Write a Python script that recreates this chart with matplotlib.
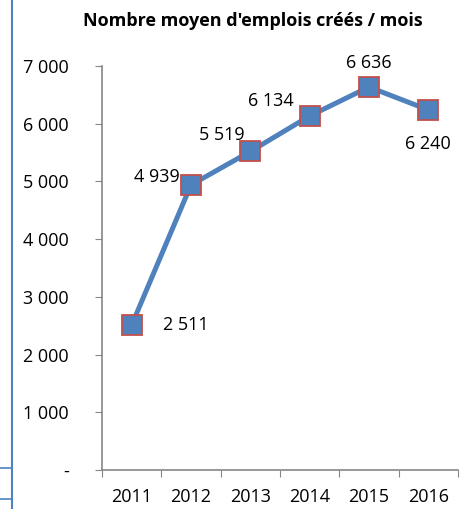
import matplotlib.pyplot as plt
from matplotlib.lines import Line2D

plt.rcParams['font.family'] = ['Open Sans', 'DejaVu Sans']

years = ['2011', '2012', '2013', '2014', '2015', '2016']
emplois = [2511, 4939, 5519, 6134, 6636, 6240]
labels = ['2 511', '4 939', '5 519', '6 134', '6 636', '6 240']
yticks = [0, 1000, 2000, 3000, 4000, 5000, 6000, 7000]
ytick_labels = ['-', '1 000', '2 000', '3 000', '4 000', '5 000', '6 000', '7 000']

fig = plt.figure(figsize=(4.63, 5.09), dpi=100)
ax = fig.add_axes([0.2203, 0.0766, 0.7687, 0.7937])

xs = [i + 0.5 for i in range(len(years))]
ax.plot(xs, emplois, color='#4F81BD', linewidth=3.6, marker='s', markersize=14.5,
        markerfacecolor='#4F81BD', markeredgecolor='#C0504D', markeredgewidth=1.3)

# position des étiquettes de données (décalage en pixels)
offsets = [(31, 0, 'left'), (-11, 8, 'right'), (-6, 16, 'right'),
           (-16, 15, 'right'), (0, 24, 'center'), (0, -34, 'center')]
for x, y, lab, (dx, dy, ha) in zip(xs, emplois, labels, offsets):
    ax.annotate(lab, (x, y), xytext=(dx, dy), textcoords='offset pixels',
                ha=ha, va='center', fontsize=13, color='black')

ax.set_xlim(0, 6)
ax.set_ylim(0, 7000)
ax.set_xticks(range(7))
ax.set_xticklabels([])
ax.set_xticks(xs, minor=True)
ax.set_xticklabels(years, minor=True)
ax.tick_params(axis='x', which='minor', length=0, pad=13, labelsize=13)
ax.tick_params(axis='x', which='major', length=5, color='#868686', direction='out')
ax.set_yticks(yticks)
ax.set_yticklabels(ytick_labels)
ax.tick_params(axis='y', length=5, color='#868686', pad=19, labelsize=13)

for s in ['top', 'right']:
    ax.spines[s].set_visible(False)
for s in ['left', 'bottom']:
    ax.spines[s].set_color('#868686')
    ax.spines[s].set_linewidth(1.2)

fig.text(0.545, 0.958, "Nombre moyen d'emplois créés / mois", ha='center', va='center',
         fontsize=13, fontweight='bold')

# bordures de tableau à gauche
fig.add_artist(Line2D([12 / 463, 12 / 463], [0, 1], color='#4F81BD', linewidth=1.5))
fig.add_artist(Line2D([0, 12 / 463], [1 - 468 / 509, 1 - 468 / 509], color='#4F81BD', linewidth=1.2))
fig.add_artist(Line2D([0, 12 / 463], [1 - 499 / 509, 1 - 499 / 509], color='#4F81BD', linewidth=1.2))

plt.savefig('out.png')
